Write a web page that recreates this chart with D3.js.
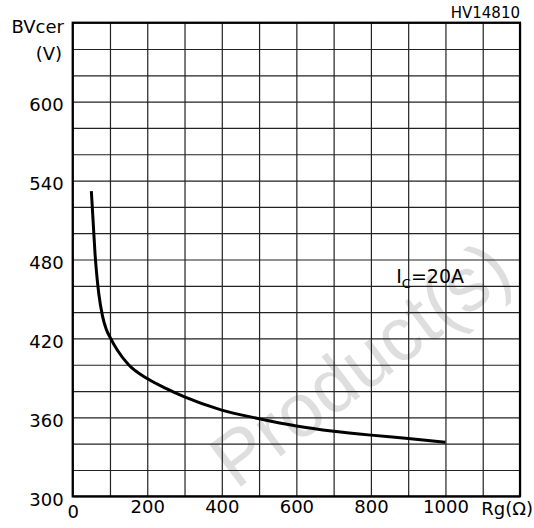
<!DOCTYPE html>
<html>
<head>
<meta charset="utf-8">
<script src="https://cdn.jsdelivr.net/npm/d3@7/dist/d3.min.js"></script>
<style>
  html, body { margin: 0; padding: 0; background: #fff; }
  svg { display: block; }
  text { font-family: "DejaVu Sans", sans-serif; fill: #000; }
</style>
</head>
<body>
<svg id="chart" width="534" height="528"></svg>
<script>
// ---- data ----
const rg = [50, 55, 60, 65, 70, 80, 90, 100, 120, 150, 200, 250, 300, 400, 500, 600, 700, 800, 900, 1000];
const bvcer = [532, 508, 484, 467, 454, 437, 427, 421, 411, 400, 389.5, 382, 375.5, 365.5, 359, 353.5, 349.5, 346.5, 344, 341];
const xTickLabels = [0, 200, 400, 600, 800, 1000];
const yTickLabels = [300, 360, 420, 480, 540, 600];
const xDomain = [0, 1200];
const yDomain = [300, 660];
const xTitle = "Rg(Ω)";
const yTitle = ["BVcer", "(V)"];
const curveLabel = { main: "I", sub: "C", rest: "=20A", rg: 868, v: 462 };
const codeLabel = "HV14810";
const watermark = "Product(s)";

// ---- layout ----
const svg = d3.select("#chart");
const L = 72.7, R = 520, T = 22.7, B = 496.3;
const x = d3.scaleLinear().domain(xDomain).range([L, R]);
const y = d3.scaleLinear().domain(yDomain).range([B, T]);

// watermark (behind)
svg.append("text")
  .attr("transform", "translate(500,258) rotate(-37)")
  .attr("text-anchor", "end")
  .attr("dominant-baseline", "central")
  .style("font-family", "'Liberation Sans', Arial, sans-serif")
  .style("font-size", "76px")
  .style("fill", "#dedede")
  .text(watermark);

// grid
const gx = x.ticks(12), gy = y.ticks(12);
svg.append("g")
  .attr("transform", `translate(0,${B})`)
  .call(d3.axisBottom(x).tickValues(gx).tickSize(-(B - T)).tickFormat(""))
  .call(g => g.select(".domain").remove())
  .call(g => g.selectAll("line").attr("stroke", "#222").attr("stroke-width", 1.2));
svg.append("g")
  .attr("transform", `translate(${L},0)`)
  .call(d3.axisLeft(y).tickValues(gy).tickSize(-(R - L)).tickFormat(""))
  .call(g => g.select(".domain").remove())
  .call(g => g.selectAll("line").attr("stroke", "#222").attr("stroke-width", 1.2));

// frame
svg.append("rect")
  .attr("x", L).attr("y", T).attr("width", R - L).attr("height", B - T)
  .attr("fill", "none").attr("stroke", "#000").attr("stroke-width", 2.2);

// x tick labels
const xAx = svg.append("g")
  .attr("transform", `translate(0,${B})`)
  .call(d3.axisBottom(x).tickValues(xTickLabels).tickSize(0).tickPadding(0).tickFormat(d3.format("d")))
  .call(g => g.select(".domain").remove());
xAx.selectAll("text")
  .attr("y", d => d === 0 ? 22 : 17)
  .attr("dy", null)
  .style("font-family", "'DejaVu Sans', sans-serif")
  .style("font-size", "18px")
  .attr("fill", "#000");

// y tick labels
const yAx = svg.append("g")
  .attr("transform", `translate(${L},0)`)
  .call(d3.axisLeft(y).tickValues(yTickLabels).tickSize(0).tickPadding(9).tickFormat(d3.format("d")))
  .call(g => g.select(".domain").remove());
yAx.selectAll("text")
  .attr("dy", "0.5em")
  .style("font-family", "'DejaVu Sans', sans-serif")
  .style("font-size", "18px")
  .attr("fill", "#000");

// axis titles
svg.append("text").attr("x", 533).attr("y", 515).attr("text-anchor", "end")
  .style("font-size", "18px").text(xTitle);
svg.append("text").attr("x", 64).attr("y", 33).attr("text-anchor", "end")
  .style("font-size", "18px").text(yTitle[0]);
svg.append("text").attr("x", 62).attr("y", 60).attr("text-anchor", "end")
  .style("font-size", "18px").text(yTitle[1]);

// code label
svg.append("text").attr("x", 520).attr("y", 18).attr("text-anchor", "end")
  .style("font-size", "15px").text(codeLabel);

// curve
const line = d3.line()
  .x((d, i) => x(rg[i]))
  .y(d => y(d))
  .curve(d3.curveMonotoneX);
svg.append("path")
  .datum(bvcer)
  .attr("d", line)
  .attr("fill", "none")
  .attr("stroke", "#000")
  .attr("stroke-width", 3);

// curve label
const lbl = svg.append("text")
  .attr("x", x(curveLabel.rg)).attr("y", y(curveLabel.v))
  .style("font-size", "19px");
lbl.append("tspan").text(curveLabel.main);
lbl.append("tspan").attr("dy", 5).style("font-size", "13px").text(curveLabel.sub);
lbl.append("tspan").attr("dy", -5).text(curveLabel.rest);
</script>
</body>
</html>
